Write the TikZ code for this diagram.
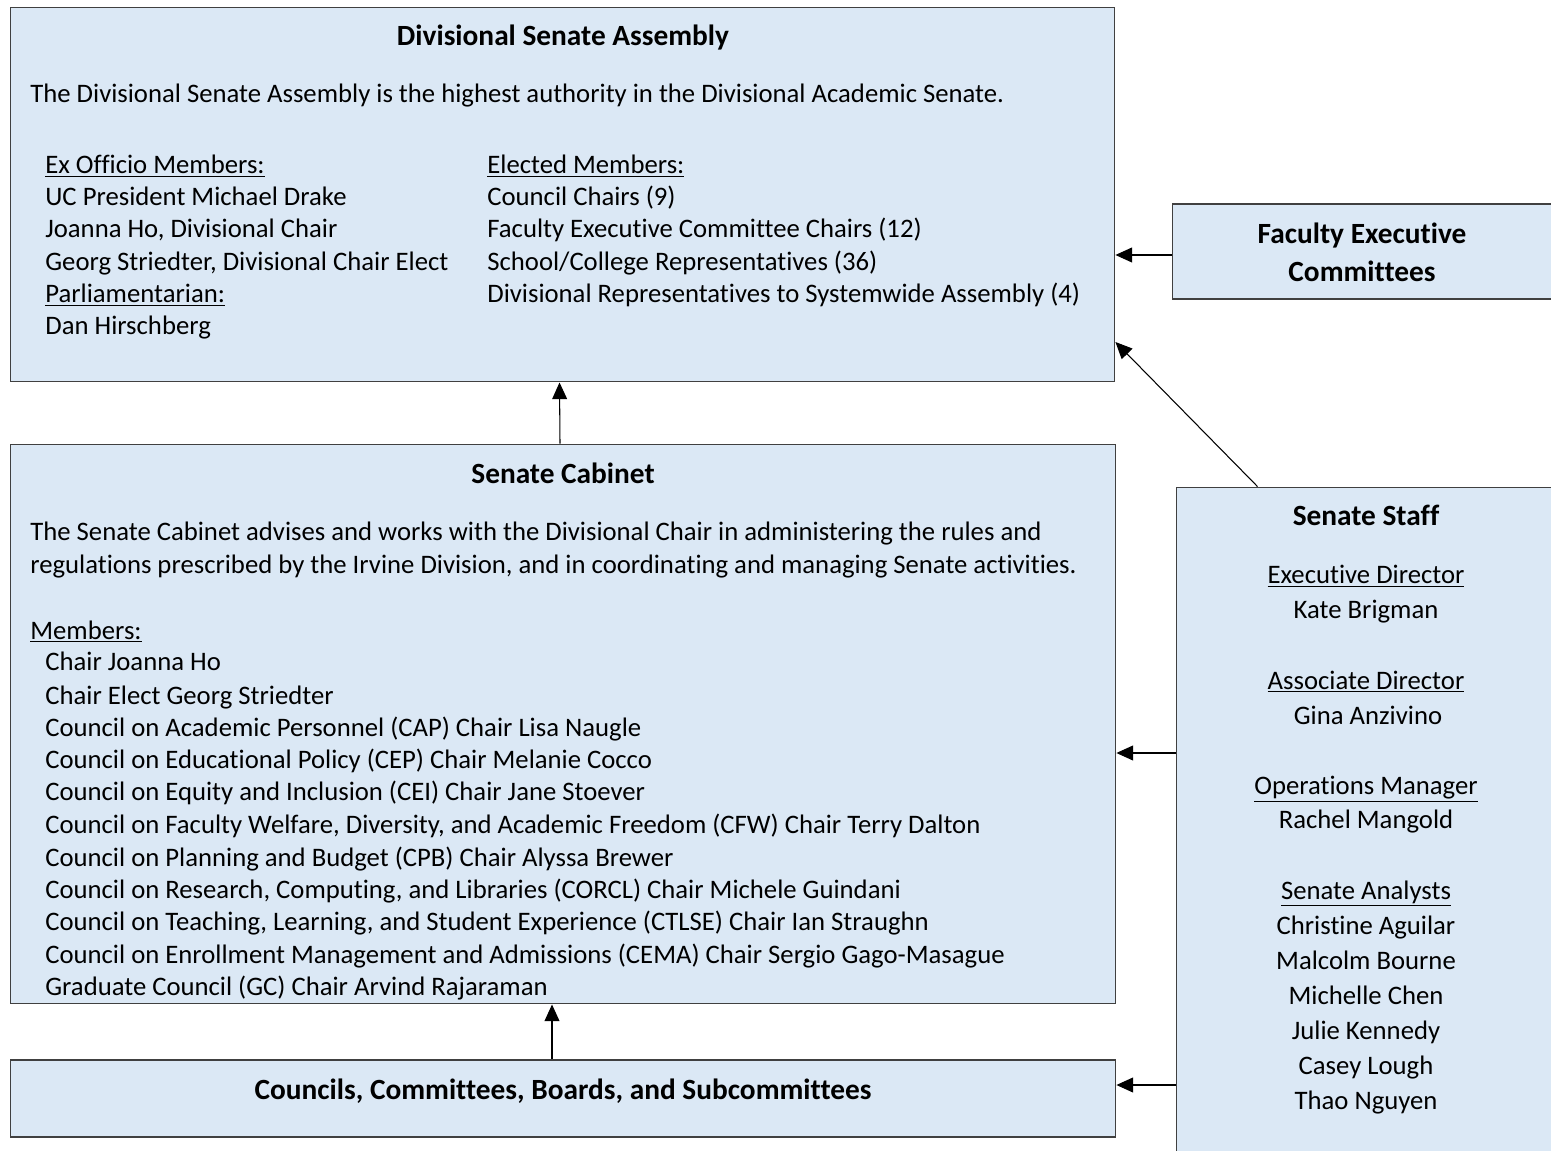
\documentclass[tikz,border=0pt]{standalone}
\usepackage{fontspec}
\setmainfont{Carlito}[Ligatures=NoCommon]
\usepackage{xcolor}
\usepackage{tikz}
\usetikzlibrary{arrows.meta}
\definecolor{BL}{HTML}{DBE8F5}
\definecolor{BD}{HTML}{404040}
\tikzset{
  box/.style={draw=BD, line width=0.6pt, fill=BL, inner sep=0pt},
  txt/.style={anchor=base west, inner sep=0pt, font=\fontsize{15.2}{18}\selectfont},
  ctxt/.style={anchor=base, inner sep=0pt, font=\fontsize{15.2}{18}\selectfont},
  head/.style={anchor=base, inner sep=0pt, font=\fontsize{16.7}{20}\selectfont\bfseries},
  arr/.style={-{Triangle[length=9.5pt, width=8.5pt]}, line width=0.6pt}
}
\begin{document}
\begin{tikzpicture}[x=0.02cm, y=-0.02cm]%
\clip (0,0) rectangle (1551,1151);%
\fill[white] (0,0) rectangle (1551,1151);%
% boxes
\node[box, minimum width=22.10cm, minimum height=7.50cm] (assembly) at (562.5,194.5) {};%
\node[box, minimum width=7.76cm, minimum height=1.90cm] (fec) at (1366,251.5) {};%
\node[box, minimum width=22.12cm, minimum height=11.20cm] (cabinet) at (563,724) {};%
\node[box, minimum width=22.12cm, minimum height=1.54cm] (councils) at (563,1098.5) {};%
\node[box, minimum width=7.68cm, minimum height=13.46cm] (staff) at (1368,823.5) {};%
\begin{scope}[yshift=-0.04cm]
% Divisional Senate Assembly
\node[head] (asmT) at (563,44) {Divisional Senate Assembly};%
\node[txt] (asmD) at (30,101) {The Divisional Senate Assembly is the highest authority in the Divisional Academic Senate.};%
\node[txt] (exH) at (45,172) {\underline{Ex Officio Members:}};%
\node[txt] (ex1) at (45,204) {UC President Michael Drake};%
\node[txt] (ex2) at (45,236) {Joanna Ho, Divisional Chair};%
\node[txt] (ex3) at (45,269) {Georg Striedter, Divisional Chair Elect};%
\node[txt] (paH) at (45,301) {\underline{Parliamentarian:}};%
\node[txt] (pa1) at (45,333) {Dan Hirschberg};%
\node[txt] (elH) at (487,172) {\underline{Elected Members:}};%
\node[txt] (el1) at (487,204) {Council Chairs (9)};%
\node[txt] (el2) at (487,236) {Faculty Executive Committee Chairs (12)};%
\node[txt] (el3) at (487,269) {School/College Representatives (36)};%
\node[txt] (el4) at (487,301) {Divisional Representatives to Systemwide Assembly (4)};%
% Faculty Executive Committees
\node[head] (fecT1) at (1362,242) {Faculty Executive};%
\node[head] (fecT2) at (1362,280) {Committees};%
% Senate Cabinet
\node[head] (cabT) at (563,482) {Senate Cabinet};%
\node[txt] (cabD1) at (30,539) {The Senate Cabinet advises and works with the Divisional Chair in administering the rules and};%
\node[txt] (cabD2) at (30,572) {regulations prescribed by the Irvine Division, and in coordinating and managing Senate activities.};%
\node[txt] (memH) at (30,637) {\underline{Members:}};%
\node[txt] (m1) at (45,669) {Chair Joanna Ho};%
\node[txt] (m2) at (45,702) {Chair Elect Georg Striedter};%
\node[txt] (m3) at (45,734) {Council on Academic Personnel (CAP) Chair Lisa Naugle};%
\node[txt] (m4) at (45,766) {Council on Educational Policy (CEP) Chair Melanie Cocco};%
\node[txt] (m5) at (45,798) {Council on Equity and Inclusion (CEI) Chair Jane Stoever};%
\node[txt] (m6) at (45,831) {Council on Faculty Welfare, Diversity, and Academic Freedom (CFW) Chair Terry Dalton};%
\node[txt] (m7) at (45,864) {Council on Planning and Budget (CPB) Chair Alyssa Brewer};%
\node[txt] (m8) at (45,896) {Council on Research, Computing, and Libraries (CORCL) Chair Michele Guindani};%
\node[txt] (m9) at (45,928) {Council on Teaching, Learning, and Student Experience (CTLSE) Chair Ian Straughn};%
\node[txt] (m10) at (45,961) {Council on Enrollment Management and Admissions (CEMA) Chair Sergio Gago-Masague};%
\node[txt] (m11) at (45,993) {Graduate Council (GC) Chair Arvind Rajaraman};%
% Councils, Committees, Boards, and Subcommittees
\node[head] (cclT) at (563,1097) {Councils, Committees, Boards, and Subcommittees};%
% Senate Staff
\node[head] (stT) at (1366,524) {Senate Staff};%
\node[ctxt] (st1) at (1366,582) {\underline{Executive Director}};%
\node[ctxt] (st2) at (1366,617) {Kate Brigman};%
\node[ctxt] (st3) at (1366,687) {\underline{Associate Director}};%
\node[ctxt] (st4) at (1368,722) {Gina Anzivino};%
\node[ctxt] (st5) at (1366,792) {\underline{Operations Manager}};%
\node[ctxt] (st6) at (1366,826) {Rachel Mangold};%
\node[ctxt] (st7) at (1366,897) {\underline{Senate Analysts}};%
\node[ctxt] (st8) at (1366,932) {Christine Aguilar};%
\node[ctxt] (st9) at (1366,967) {Malcolm Bourne};%
\node[ctxt] (st10) at (1366,1002) {Michelle Chen};%
\node[ctxt] (st11) at (1366,1037) {Julie Kennedy};%
\node[ctxt] (st12) at (1366,1072) {Casey Lough};%
\node[ctxt] (st13) at (1366,1107) {Thao Nguyen};%
\end{scope}
% connectors
\draw[arr] ([xshift=-0.06cm]cabinet.north) -- ([xshift=-0.06cm]assembly.south);%
\draw[arr] (fec.west |- 0,255) -- (assembly.east |- 0,255);%
\draw[arr] ([xshift=1.64cm]staff.north west) -- (assembly.east |- 0,342);%
\draw[arr] (staff.west |- 0,753) -- (cabinet.east |- 0,753);%
\draw[arr] ([xshift=-0.22cm]councils.north) -- ([xshift=-0.22cm]cabinet.south);%
\draw[arr] (staff.west |- 0,1085) -- (councils.east |- 0,1085);%
\end{tikzpicture}
\end{document}
